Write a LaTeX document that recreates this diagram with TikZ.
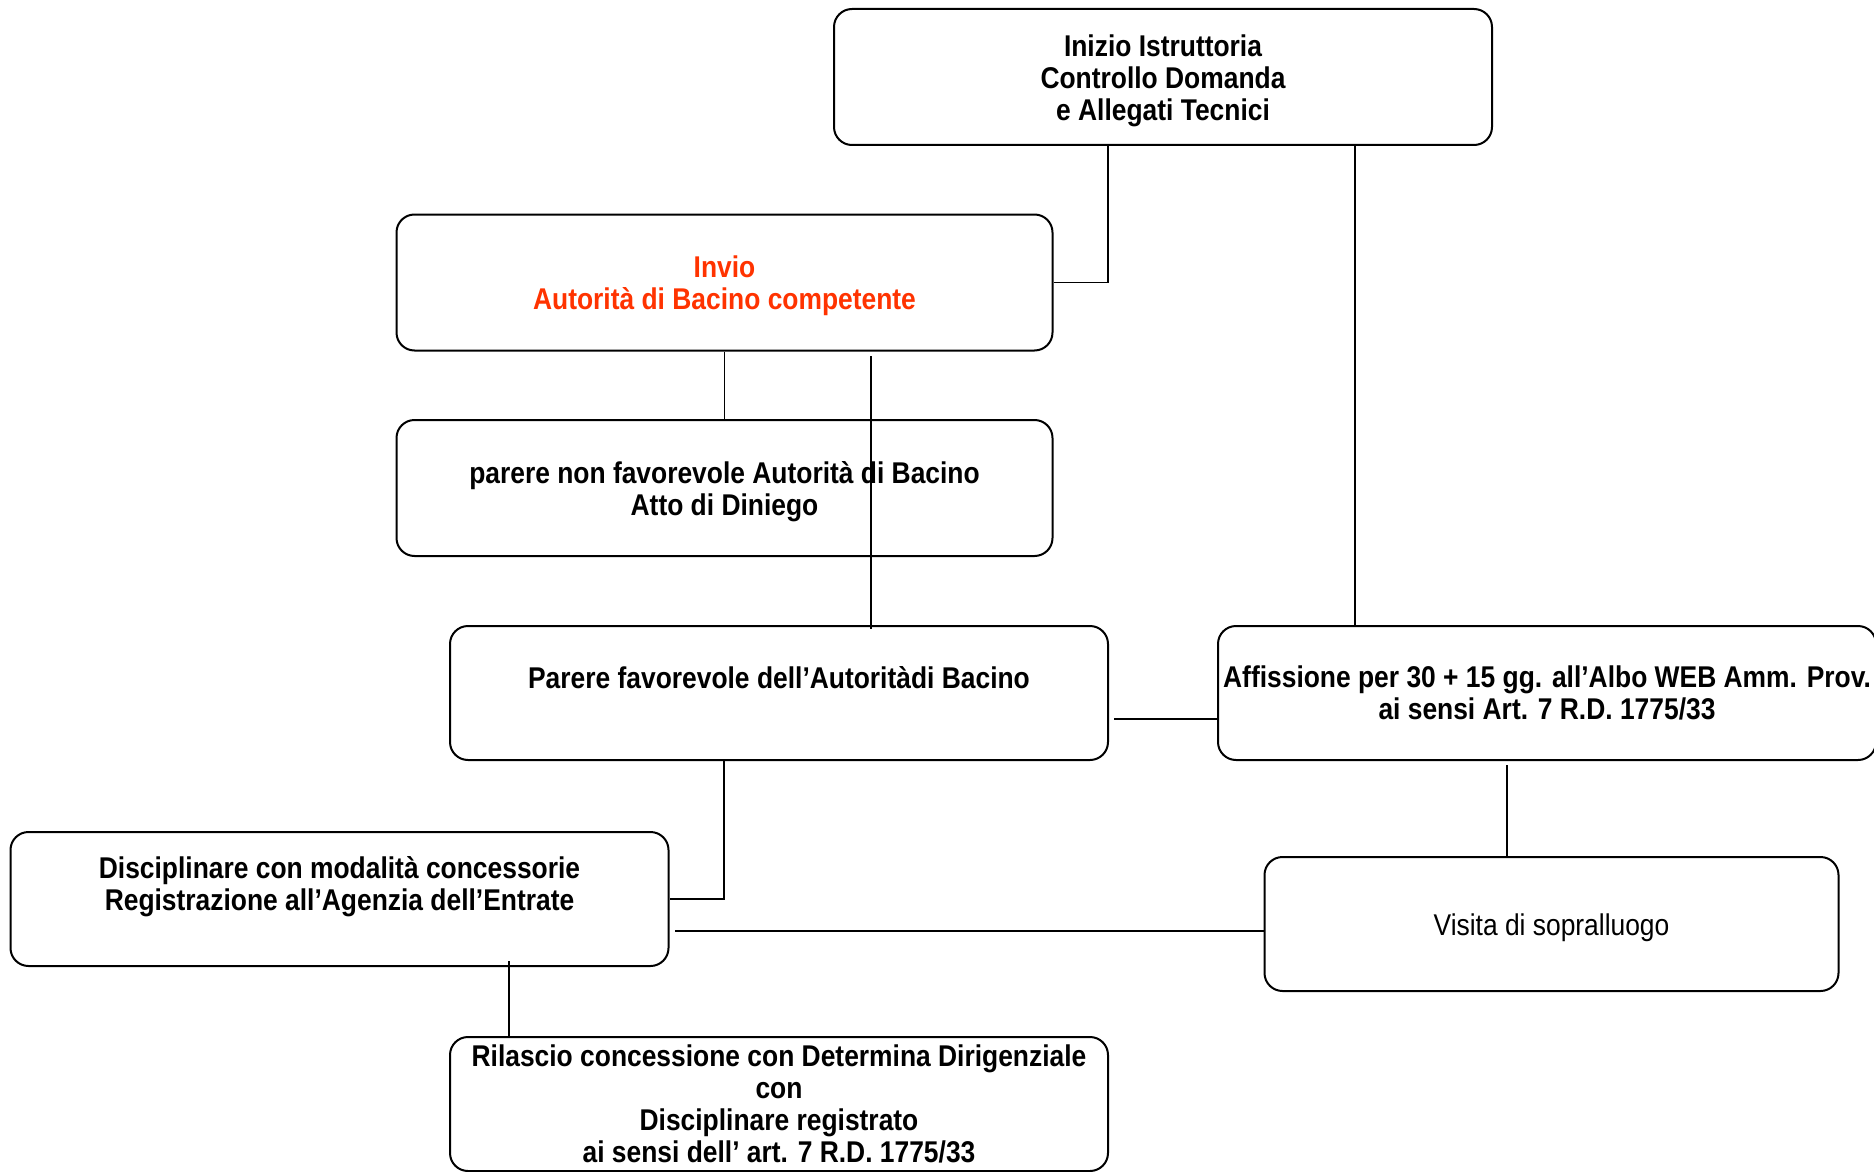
\documentclass[tikz,border=0pt]{standalone}
\usepackage{fontspec}
\setmainfont{Liberation Sans}[FakeStretch=0.88]
\definecolor{redtext}{RGB}{255,51,0}
\newcommand{\lowerfirst}{\rule{0pt}{14.5pt}}
\begin{document}
\begin{tikzpicture}[x=0.5pt,y=-0.5pt,
  box/.style={draw=black,line width=1pt,rounded corners=9pt,align=center,
    inner sep=0pt,font=\fontsize{15}{16}\selectfont\bfseries},
  conn/.style={draw=black,line width=0.8pt}]
\useasboundingbox (0,0) rectangle (1874,1172);
\node[box,minimum width=329pt,minimum height=68pt] (A) at (1163,77)
  {\lowerfirst Inizio Istruttoria\\Controllo Domanda\\e Allegati Tecnici};
\node[box,minimum width=328pt,minimum height=68pt,text=redtext] (B) at (724.5,282.5)
  {\lowerfirst Invio\\Autorità di Bacino competente};
\node[box,minimum width=328pt,minimum height=68pt] (C) at (724.5,488)
  {\lowerfirst parere non favorevole Autorità di Bacino\\Atto di Diniego};
\node[box,minimum width=329pt,minimum height=67pt] (D) at (779,693)
  {Parere favorevole dell’Autoritàdi Bacino\\\mbox{}};
\node[box,minimum width=329pt,minimum height=67pt] (E) at (1547,693)
  {Affissione per 30 + 15 gg. all’Albo WEB Amm. Prov.\\ai sensi Art. 7 R.D. 1775/33};
\node[box,minimum width=329pt,minimum height=67pt] (F) at (339.5,899)
  {Disciplinare con modalità concessorie\\Registrazione all’Agenzia dell’Entrate\\\mbox{}};
\node[box,minimum width=287pt,minimum height=67pt,font=\fontsize{15}{16}\selectfont] (G) at (1551.5,924)
  {\lowerfirst Visita di sopralluogo};
\node[box,minimum width=329pt,minimum height=67pt] (H) at (779,1104)
  {Rilascio concessione con Determina Dirigenziale\\con\\Disciplinare registrato\\ai sensi dell’ art. 7 R.D. 1775/33};
% free-end coordinates
\coordinate (xa) at (1108,0);
\coordinate (xe) at (1355,0);
\coordinate (xg) at (1507,0);
\coordinate (xh) at (509,0);
\coordinate (xdf) at (724,0);
\coordinate (l1) at (871,356);
\coordinate (l2) at (871,629);
\coordinate (de1) at (1114,719);
\coordinate (de2) at (1218,719);
\coordinate (fg1) at (675,931);
\coordinate (eg1) at (1507,765);
\coordinate (fh1) at (509,961);
% connectors
\draw[conn] (A.south -| xa) |- (B.east);
\draw[conn] (A.south -| xe) -- (E.north -| xe);
\draw[conn] (B.south) -- (C.north);
\draw[conn] (l1) -- (l2);
\draw[conn] (de1) -- (de2);
\draw[conn] (D.south -| xdf) |- (F.east);
\draw[conn] (fg1) -- (fg1 -| G.west);
\draw[conn] (eg1) -- (G.north -| xg);
\draw[conn] (fh1) -- (H.north -| xh);
\end{tikzpicture}
\end{document}
